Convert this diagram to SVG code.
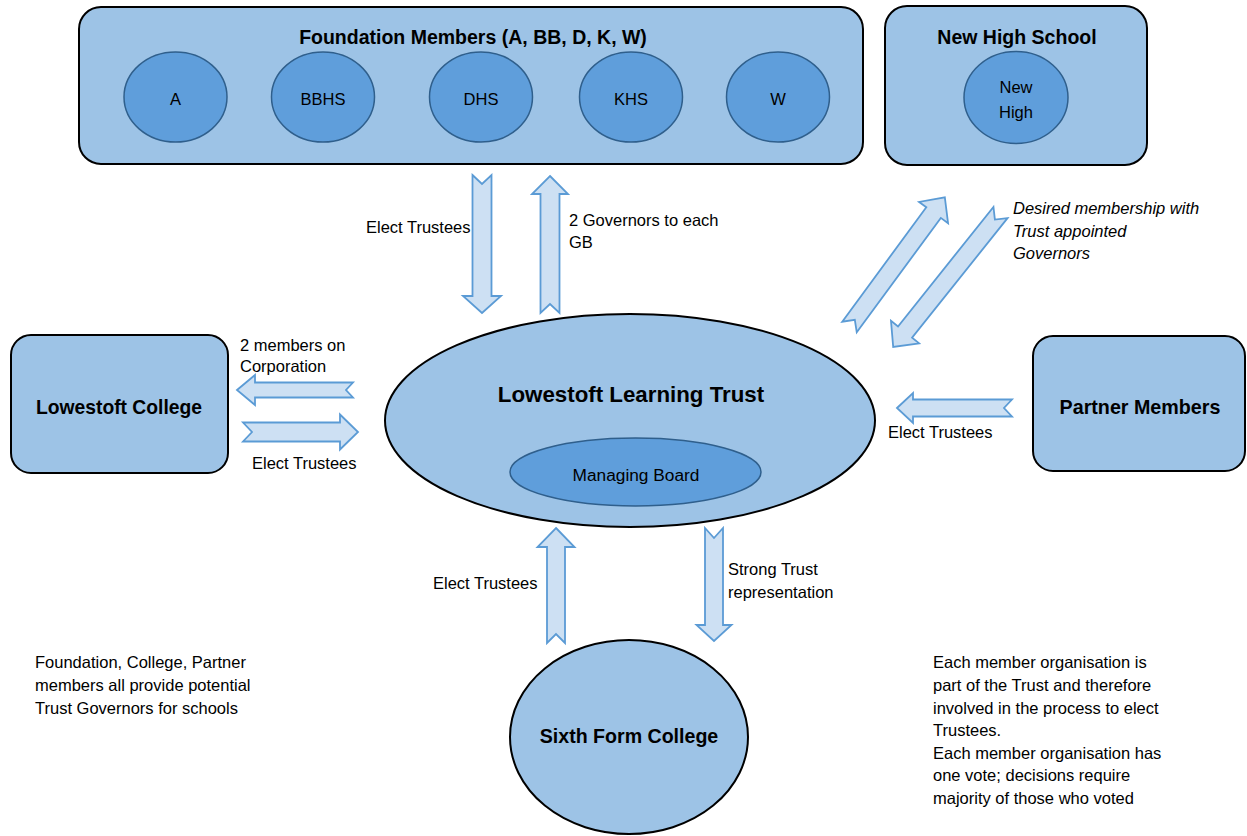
<svg xmlns="http://www.w3.org/2000/svg" width="1247" height="836" viewBox="0 0 1247 836">
<style>
.box{fill:#9DC3E6;stroke:#000;stroke-width:2}
.inner{fill:#5F9EDB;stroke:#2F5F8C;stroke-width:1.5}
.arr{fill:#CDE0F3;stroke:#5B9BD5;stroke-width:1.8;stroke-linejoin:miter}
text{font-family:"Liberation Sans",Arial,sans-serif;fill:#000}
.t{font-size:16.5px}
.c{text-anchor:middle}
.b{font-weight:bold}
.i{font-style:italic}
</style>
<rect width="1247" height="836" fill="#fff"/>
<g id="foundation">
<rect class="box" x="79" y="7" width="784" height="157" rx="22"/>
<text class="b c" x="473" y="44" font-size="19.5">Foundation Members (A, BB, D, K, W)</text>
<ellipse class="inner" cx="175.5" cy="97" rx="51.5" ry="45"/>
<text class="t c" x="175.5" y="105">A</text>
<ellipse class="inner" cx="323" cy="97" rx="51.5" ry="45"/>
<text class="t c" x="323" y="105">BBHS</text>
<ellipse class="inner" cx="481" cy="97" rx="51.5" ry="45"/>
<text class="t c" x="481" y="105">DHS</text>
<ellipse class="inner" cx="631" cy="97" rx="51.5" ry="45"/>
<text class="t c" x="631" y="105">KHS</text>
<ellipse class="inner" cx="778" cy="97" rx="51.5" ry="45"/>
<text class="t c" x="778" y="105">W</text>
</g>
<g id="newhigh">
<rect class="box" x="885" y="6" width="262" height="159" rx="22"/>
<text class="b c" x="1017" y="44" font-size="19.5">New High School</text>
<ellipse class="inner" cx="1016" cy="97.5" rx="52" ry="46"/>
<text class="t c" x="1016" y="93">New</text>
<text class="t c" x="1016" y="118">High</text>
</g>
<g id="college">
<rect class="box" x="11" y="335" width="217" height="138" rx="20"/>
<text class="b c" x="119" y="414" font-size="19.3">Lowestoft College</text>
</g>
<g id="partner">
<rect class="box" x="1033" y="336" width="212" height="135" rx="20"/>
<text class="b c" x="1140" y="414" font-size="19.7">Partner Members</text>
</g>
<g id="trust">
<ellipse class="box" cx="630" cy="420.5" rx="245" ry="106.5"/>
<text class="b c" x="631" y="402" font-size="22.3">Lowestoft Learning Trust</text>
<g id="board">
<ellipse class="inner" cx="635.5" cy="472" rx="125.5" ry="34"/>
<text class="c" x="636" y="481" font-size="17.3">Managing Board</text>
</g>
</g>
<g id="sixthform">
<ellipse class="box" cx="629" cy="737" rx="119" ry="97"/>
<text class="b c" x="629" y="743" font-size="19.6">Sixth Form College</text>
</g>
<g id="connectors">
<path class="arr" d="M472.5,175 L482,184 L491.5,175 L491.5,296 L501,296 L482,313 L463,296 L472.5,296 Z"/>
<path class="arr" d="M550,176 L568,194 L559.5,194 L559.5,313 L550,304 L540.5,313 L540.5,194 L532,194 Z"/>
<path class="arr" transform="translate(849.5,327) rotate(-53.7)" d="M0,-9 L142,-9 L142,-18 L161,0 L142,18 L142,9 L0,9 L9,0 Z"/>
<path class="arr" transform="translate(1000.5,212.5) rotate(128.6)" d="M0,-9 L153,-9 L153,-18 L172,0 L153,18 L153,9 L0,9 L9,0 Z"/>
<path class="arr" d="M237,390 L255,375 L255,382.5 L353,382.5 L346,390 L353,397.5 L255,397.5 L255,405 Z"/>
<path class="arr" d="M243,422.5 L340,422.5 L340,414.5 L358,432 L340,449.5 L340,441.5 L243,441.5 L252,432 Z"/>
<path class="arr" d="M897,408 L913,393 L913,399.5 L1012,399.5 L1004,408 L1012,416.5 L913,416.5 L913,423 Z"/>
<path class="arr" d="M556,528 L574.5,547 L565,547 L565,643 L556,634 L547,643 L547,547 L537.5,547 Z"/>
<path class="arr" d="M705,528 L714,538 L723,528 L723,625 L731.5,625 L714,641 L696.5,625 L705,625 Z"/>
</g>
<g id="labels">
<text class="t" x="366" y="233">Elect Trustees</text>
<text class="t" x="569" y="226">2 Governors to each</text>
<text class="t" x="569" y="248">GB</text>
<text class="t i" x="1013" y="214">Desired membership with</text>
<text class="t i" x="1013" y="237">Trust appointed</text>
<text class="t i" x="1013" y="259">Governors</text>
<text class="t" x="240" y="351">2 members on</text>
<text class="t" x="240" y="372">Corporation</text>
<text class="t" x="252" y="469">Elect Trustees</text>
<text class="t" x="888" y="438">Elect Trustees</text>
<text class="t" x="433" y="589">Elect Trustees</text>
<text class="t" x="728" y="575">Strong Trust</text>
<text class="t" x="728" y="598">representation</text>
<text class="t" x="35" y="668">Foundation, College, Partner</text>
<text class="t" x="35" y="691">members all provide potential</text>
<text class="t" x="35" y="714">Trust Governors for schools</text>
<text class="t" x="933" y="668">Each member organisation is</text>
<text class="t" x="933" y="691">part of the Trust and therefore</text>
<text class="t" x="933" y="714">involved in the process to elect</text>
<text class="t" x="933" y="736">Trustees.</text>
<text class="t" x="933" y="759">Each member organisation has</text>
<text class="t" x="933" y="781">one vote; decisions require</text>
<text class="t" x="933" y="804">majority of those who voted</text>
</g>
</svg>
